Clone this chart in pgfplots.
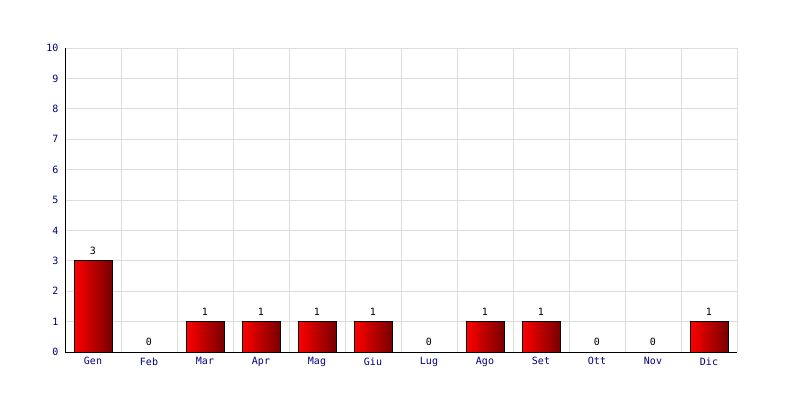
\documentclass[border=0pt]{standalone}
\usepackage{fontspec}
\setmainfont{DejaVu Sans Mono}
\usepackage{pgfplots}
\pgfplotsset{compat=1.18}
\definecolor{barL}{HTML}{FF0000}
\definecolor{barR}{HTML}{780000}
\definecolor{gridc}{HTML}{DDDDDD}
\definecolor{tickc}{HTML}{000080}
\pgfplotsset{redbar/.style={ybar, bar width=38pt, bar shift=0pt, draw=black, line width=0.8pt, left color=barL, right color=barR}}
\begin{document}
\begin{tikzpicture}[x=1pt,y=1pt]
\path[use as bounding box] (0,0) rectangle (800,400);
\begin{axis}[
  at={(65pt,48pt)}, anchor=south west,
  scale only axis, width=672pt, height=304pt,
  xmin=-0.5, xmax=11.5, ymin=0, ymax=10,
  xtick={0,...,11},
  xticklabels={Gen,Feb,Mar,Apr,Mag,Giu,Lug,Ago,Set,Ott,Nov,Dic},
  minor xtick={-0.5,0.5,...,11.5},
  ytick={0,...,10},
  xmajorgrids=false, xminorgrids=true, ymajorgrids=true,
  grid style={gridc, line width=0.8pt},
  minor grid style={gridc, line width=0.8pt},
  major tick length=0pt, minor tick length=0pt,
  axis x line*=bottom, axis y line*=left,
  axis line style={-, black, line width=0.8pt},
  tick label style={font=\fontsize{10}{11}\selectfont, text=tickc},
  /pgf/number format/assume math mode=true,
  xticklabel style={yshift=-2pt},
  yticklabel style={xshift=-3pt},
  clip=false,
]
\addplot[redbar] coordinates {(0,3)};
\addplot[redbar] coordinates {(2,1)};
\addplot[redbar] coordinates {(3,1)};
\addplot[redbar] coordinates {(4,1)};
\addplot[redbar] coordinates {(5,1)};
\addplot[redbar] coordinates {(7,1)};
\addplot[redbar] coordinates {(8,1)};
\addplot[redbar] coordinates {(11,1)};
\addplot[draw=none, mark=none, nodes near coords,
  every node near coord/.append style={font=\fontsize{10}{11}\selectfont, text=black, anchor=south, yshift=3pt}]
  coordinates {(0,3) (1,0) (2,1) (3,1) (4,1) (5,1) (6,0) (7,1) (8,1) (9,0) (10,0) (11,1)};
\end{axis}
\end{tikzpicture}
\end{document}
